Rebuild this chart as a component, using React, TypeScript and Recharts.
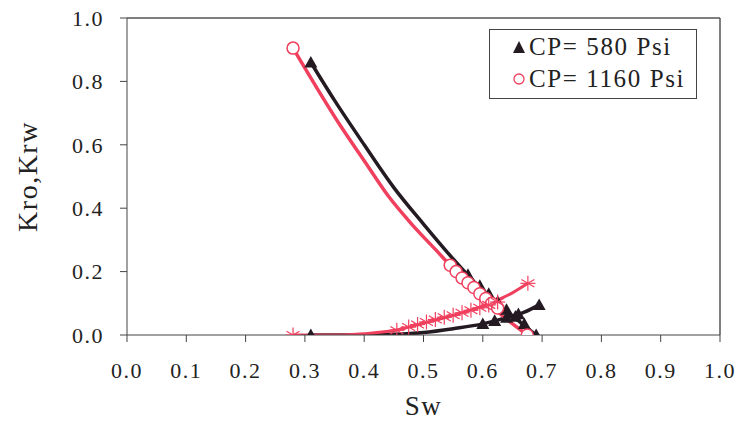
import React from "react";
import {
  ComposedChart,
  Line,
  Scatter,
  XAxis,
  YAxis,
  ReferenceLine,
  Legend,
} from "recharts";

// Tick values
const xTicks = [0, 0.1, 0.2, 0.3, 0.4, 0.5, 0.6, 0.7, 0.8, 0.9, 1.0];
const yTicks = [0, 0.2, 0.4, 0.6, 0.8, 1.0];

// CP = 580 Psi (black) — Kro curve
const kro580LineSw = [0.31, 0.35, 0.4, 0.45, 0.5, 0.55, 0.6, 0.65, 0.69];
const kro580LineK = [0.86, 0.74, 0.6, 0.465, 0.35, 0.24, 0.14, 0.06, 0.0];
// CP = 580 Psi — Krw curve
const krw580LineSw = [0.31, 0.4, 0.45, 0.5, 0.55, 0.6, 0.64, 0.67, 0.695];
const krw580LineK = [0, 0, 0.002, 0.008, 0.02, 0.035, 0.055, 0.072, 0.095];
// CP = 580 Psi markers
const kro580MarkSw = [0.31, 0.575, 0.595, 0.61, 0.625, 0.64, 0.655, 0.67, 0.69];
const kro580MarkK = [0.86, 0.19, 0.155, 0.13, 0.105, 0.08, 0.058, 0.035, 0.0];
const krw580MarkSw = [0.31, 0.6, 0.62, 0.64, 0.66, 0.695];
const krw580MarkK = [0, 0.035, 0.045, 0.055, 0.066, 0.095];

// CP = 1160 Psi (red) — Kro curve
const kro1160LineSw = [0.28, 0.32, 0.36, 0.4, 0.44, 0.48, 0.52, 0.56, 0.6, 0.64, 0.675];
const kro1160LineK = [0.905, 0.78, 0.66, 0.55, 0.44, 0.35, 0.27, 0.19, 0.115, 0.05, 0.0];
// CP = 1160 Psi — Krw curve
const krw1160LineSw = [0.28, 0.35, 0.4, 0.45, 0.5, 0.55, 0.6, 0.65, 0.676];
const krw1160LineK = [0, 0, 0.004, 0.014, 0.037, 0.062, 0.092, 0.133, 0.163];
// CP = 1160 Psi markers
const kro1160MarkSw = [0.28, 0.545, 0.555, 0.565, 0.575, 0.585, 0.595, 0.605, 0.615, 0.625, 0.675];
const kro1160MarkK = [0.905, 0.22, 0.2, 0.18, 0.165, 0.15, 0.13, 0.115, 0.1, 0.085, 0.0];
const krw1160MarkSw = [0.28, 0.455, 0.475, 0.49, 0.505, 0.52, 0.535, 0.55, 0.565, 0.58, 0.595, 0.61, 0.625, 0.676];
const krw1160MarkK = [0, 0.015, 0.025, 0.033, 0.041, 0.049, 0.056, 0.062, 0.07, 0.078, 0.086, 0.095, 0.104, 0.163];

const legendLabels = ["CP= 580 Psi", "CP= 1160 Psi"];

const zip = (xs: number[], ys: number[]) => xs.map((sw, i) => ({ sw, k: ys[i] }));

const BLACK = "#231a22";
const RED = "#f0405e";
const FONT = "'Liberation Serif', 'Times New Roman', serif";

const Triangle = (props: any) => {
  const { cx, cy } = props;
  if (cx == null || cy == null) return null;
  const s = 6.5;
  return (
    <path
      d={`M${cx},${cy - s} L${cx + s},${cy + s * 0.8} L${cx - s},${cy + s * 0.8} Z`}
      fill={BLACK}
    />
  );
};

const HollowCircle = (props: any) => {
  const { cx, cy } = props;
  if (cx == null || cy == null) return null;
  return <circle cx={cx} cy={cy} r={6} fill="#fff" stroke={RED} strokeWidth={1.5} />;
};

const Asterisk = (props: any) => {
  const { cx, cy } = props;
  if (cx == null || cy == null) return null;
  const r = 7.5;
  const lines = [0, 60, 120].map((a) => {
    const rad = (a * Math.PI) / 180;
    const dx = r * Math.sin(rad);
    const dy = r * Math.cos(rad);
    return <line key={a} x1={cx - dx} y1={cy - dy} x2={cx + dx} y2={cy + dy} stroke={RED} strokeWidth={1.2} />;
  });
  return (
    <g>
      {lines}
      <line x1={cx - r} y1={cy} x2={cx + r} y2={cy} stroke={RED} strokeWidth={1.2} />
    </g>
  );
};

const LegendBox = () => (
  <div
    style={{
      width: 208,
      height: 70,
      border: "1.5px solid #444",
      background: "#fff",
      fontFamily: FONT,
      fontSize: 25,
      letterSpacing: 1.6,
      color: "#222",
      boxSizing: "border-box",
      paddingLeft: 22,
      paddingTop: 1,
      whiteSpace: "nowrap",
    }}
  >
    <div style={{ display: "flex", alignItems: "center", height: 32 }}>
      <svg width={14} height={14} style={{ marginRight: 3 }}>
        <path d="M7,1 L13,13 L1,13 Z" fill={BLACK} />
      </svg>
      <span>{legendLabels[0]}</span>
    </div>
    <div style={{ display: "flex", alignItems: "center", height: 32 }}>
      <svg width={14} height={14} style={{ marginRight: 3 }}>
        <circle cx={7} cy={7} r={5} fill="#fff" stroke={RED} strokeWidth={1.3} />
      </svg>
      <span>{legendLabels[1]}</span>
    </div>
  </div>
);

export default function App() {
  const tickStyle = { fontFamily: FONT, fontSize: 22, fill: "#222", letterSpacing: 1.5 };
  return (
    <div style={{ position: "absolute", left: 0, top: 0, width: 736, height: 422, background: "#fff" }}>
      <ComposedChart
        width={736}
        height={422}
        margin={{ top: 18, right: 16, bottom: 0, left: 67 }}
      >
        <XAxis
          dataKey="sw"
          type="number"
          domain={[0, 1]}
          ticks={xTicks}
          tickFormatter={(v: number) => v.toFixed(1)}
          tick={tickStyle}
          tickSize={7}
          tickMargin={20}
          stroke="#444"
          allowDataOverflow
          height={87}
          label={{ value: "Sw", position: "insideBottom", offset: 7, style: { fontFamily: FONT, fontSize: 27, fill: "#222", letterSpacing: 1.5 } }}
        />
        <YAxis
          dataKey="k"
          type="number"
          domain={[0, 1]}
          ticks={yTicks}
          tickFormatter={(v: number) => v.toFixed(1)}
          tick={tickStyle}
          tickSize={7}
          tickMargin={16}
          stroke="#444"
          width={60}
          allowDataOverflow
          label={{
            value: "Kro,Krw",
            angle: -90,
            position: "insideLeft",
            offset: -40,
            style: { fontFamily: FONT, fontSize: 28, fill: "#222", textAnchor: "middle", letterSpacing: 1.5 },
          }}
        />
        <ReferenceLine y={1} stroke="#555" strokeWidth={1.5} />
        <ReferenceLine x={1} stroke="#555" strokeWidth={1.5} />
        <Line data={zip(kro580LineSw, kro580LineK)} dataKey="k" type="monotone" stroke={BLACK} strokeWidth={3.5} dot={false} isAnimationActive={false} legendType="none" />
        <Line data={zip(krw580LineSw, krw580LineK)} dataKey="k" type="monotone" stroke={BLACK} strokeWidth={3.5} dot={false} isAnimationActive={false} legendType="none" />
        <Line data={zip(kro1160LineSw, kro1160LineK)} dataKey="k" type="monotone" stroke={RED} strokeWidth={3.5} dot={false} isAnimationActive={false} legendType="none" />
        <Line data={zip(krw1160LineSw, krw1160LineK)} dataKey="k" type="monotone" stroke={RED} strokeWidth={3} dot={false} isAnimationActive={false} legendType="none" />
        <Scatter data={zip(kro580MarkSw, kro580MarkK)} dataKey="k" shape={Triangle} isAnimationActive={false} />
        <Scatter data={zip(krw580MarkSw, krw580MarkK)} dataKey="k" shape={Triangle} isAnimationActive={false} />
        <Scatter data={zip(kro1160MarkSw, kro1160MarkK)} dataKey="k" shape={HollowCircle} isAnimationActive={false} />
        <Scatter data={zip(krw1160MarkSw, krw1160MarkK)} dataKey="k" shape={Asterisk} isAnimationActive={false} />
        <Legend
          layout="vertical"
          align="center"
          verticalAlign="middle"
          content={() => <LegendBox />}
          wrapperStyle={{ position: "absolute", left: 489, top: 29, width: 208 }}
        />
      </ComposedChart>
    </div>
  );
}
